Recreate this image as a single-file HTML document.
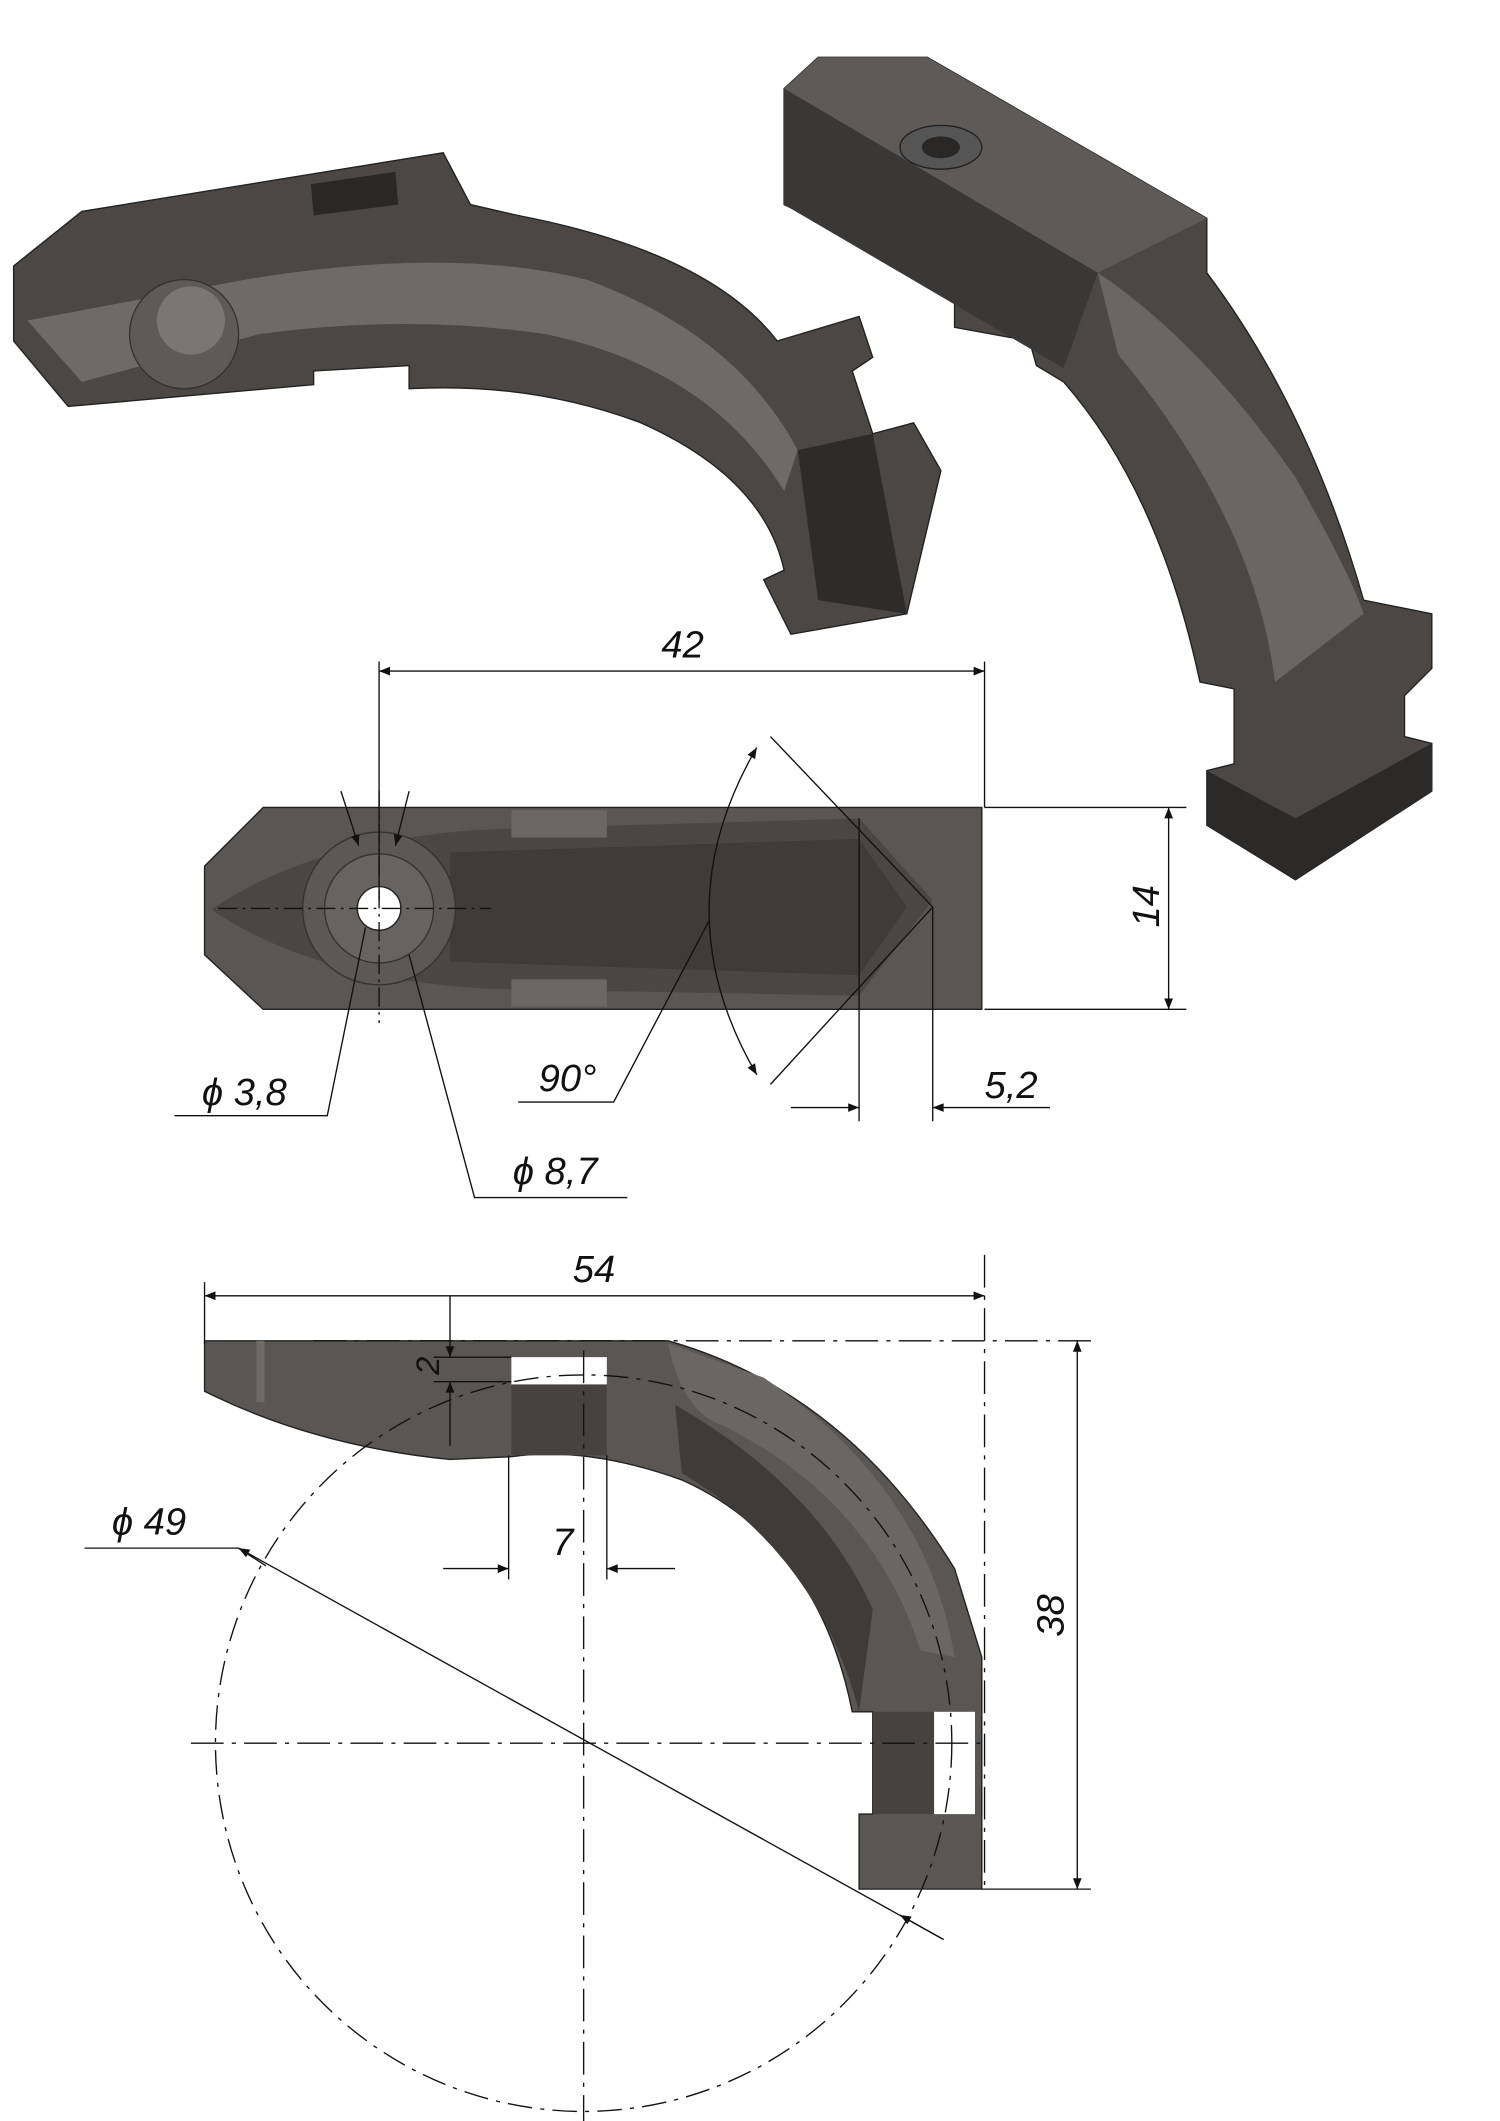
<!DOCTYPE html>
<html><head><meta charset="utf-8"><style>
html,body{margin:0;padding:0;background:#fff;}
svg{display:block;}
text{font-family:"Liberation Sans",sans-serif;font-style:italic;fill:#111;}
</style></head><body>
<svg width="1500" height="2121" viewBox="0 0 1100 1555" preserveAspectRatio="none" xmlns="http://www.w3.org/2000/svg">
<defs>
<marker id="a" viewBox="0 0 10 10" refX="10" refY="5" markerWidth="12" markerHeight="8" orient="auto-start-reverse" markerUnits="userSpaceOnUse"><path d="M0,1 L10,5 L0,9 z" fill="#111"/></marker>
<linearGradient id="g1" x1="0" y1="0" x2="1" y2="1"><stop offset="0" stop-color="#6a6664"/><stop offset="0.5" stop-color="#5a5654"/><stop offset="1" stop-color="#3a3836"/></linearGradient>
</defs>
<rect width="1100" height="1555" fill="#fff"/>

<!-- top-left 3D part -->
<path d="M10,195 L60,155 L325,112 L345,150 L380,158 Q520,185 570,250 L630,232 L640,262 L625,272 L640,318 L670,310 L690,345 L665,450 L580,465 L560,425 L575,418 Q560,350 470,310 Q390,280 300,285 L300,268 L230,272 L230,282 L50,298 L10,250 Z" fill="#4a4745" stroke="#222" stroke-width="1"/>
<path d="M20,235 L180,205 Q330,180 430,205 Q540,245 585,330 L575,360 Q520,270 400,245 Q300,230 190,245 L60,280 Z" fill="#6e6a67"/>
<circle cx="135" cy="245" r="40" fill="#5e5a58" stroke="#333"/>
<circle cx="140" cy="235" r="25" fill="#7a7674"/>
<path d="M228,135 L290,126 L292,150 L230,158 Z" fill="#2a2826"/>
<path d="M585,330 L640,318 L665,450 L600,440 Z" fill="#2e2c2a"/>

<!-- top-right 3D part -->
<path d="M575,65 L600,42 L680,42 L885,160 L885,200 Q960,300 1000,440 L1050,450 L1050,490 L1030,510 L1030,540 L1050,545 L1050,580 L950,645 L885,605 L885,565 L905,560 L905,505 L880,500 Q850,360 780,280 L760,268 L755,250 L700,240 L700,210 L575,150 Z" fill="#4a4745" stroke="#222" stroke-width="1"/>
<path d="M575,65 L600,42 L680,42 L885,160 L805,200 Z" fill="#5e5a57"/>
<path d="M805,200 Q880,250 950,350 Q990,420 1000,450 L935,500 Q920,380 820,260 Z" fill="#6a6663"/>
<path d="M575,65 L805,200 L780,270 L575,150 Z" fill="#3a3836"/>
<ellipse cx="690" cy="108" rx="30" ry="16" fill="#555" stroke="#222"/>
<ellipse cx="690" cy="108" rx="14" ry="8" fill="#2a2826"/>
<path d="M885,565 L950,600 L1050,545 L1050,580 L950,645 L885,605 Z" fill="#2c2a28"/>

<!-- middle view -->
<path d="M150,635 L193,592 L720,592 L720,740 L193,740 L150,700 Z" fill="#5a5654" stroke="#222" stroke-width="1"/>
<path d="M155,667 Q230,615 360,608 L630,600 L684,660 L630,730 L360,725 Q230,718 155,667 Z" fill="#4a4644"/>
<path d="M330,625 L630,615 L665,665 L630,715 L330,705 Z" fill="#3e3b39"/>
<rect x="375" y="594" width="70" height="20" fill="#6b6764"/>
<rect x="375" y="718" width="70" height="20" fill="#6b6764"/>
<circle cx="278" cy="666" r="56" fill="#5c5856" stroke="#333"/>
<circle cx="278" cy="666" r="40" fill="#676361" stroke="#333"/>
<circle cx="278" cy="666" r="16" fill="#fff" stroke="#222"/>
<line x1="160" y1="666" x2="360" y2="666" stroke="#111" stroke-dasharray="14,4,2,4"/>
<line x1="278" y1="580" x2="278" y2="750" stroke="#111" stroke-dasharray="14,4,2,4"/>
<!-- 42 -->
<line x1="278" y1="485" x2="278" y2="660" stroke="#111"/>
<line x1="722" y1="485" x2="722" y2="592" stroke="#111"/>
<line x1="278" y1="492" x2="722" y2="492" stroke="#111" marker-start="url(#a)" marker-end="url(#a)"/>
<text x="485" y="482" font-size="28">42</text>
<!-- 14 -->
<line x1="722" y1="592" x2="870" y2="592" stroke="#111"/>
<line x1="722" y1="740" x2="870" y2="740" stroke="#111"/>
<line x1="857" y1="592" x2="857" y2="740" stroke="#111" marker-start="url(#a)" marker-end="url(#a)"/>
<text x="0" y="0" font-size="28" transform="translate(850,680) rotate(-90)">14</text>
<!-- 5,2 -->
<line x1="630" y1="600" x2="630" y2="822" stroke="#111"/>
<line x1="684" y1="665" x2="684" y2="822" stroke="#111"/>
<line x1="580" y1="812" x2="630" y2="812" stroke="#111" marker-end="url(#a)"/>
<line x1="770" y1="812" x2="684" y2="812" stroke="#111" marker-end="url(#a)"/>
<text x="722" y="805" font-size="28">5,2</text>
<!-- 90 deg -->
<line x1="565" y1="540" x2="684" y2="665" stroke="#111"/>
<line x1="565" y1="795" x2="684" y2="665" stroke="#111"/>
<path d="M555,548 Q485,668 555,788" fill="none" stroke="#111" marker-start="url(#a)" marker-end="url(#a)"/>
<polyline points="380,808 450,808 520,675" fill="none" stroke="#111"/>
<text x="395" y="800" font-size="28">90°</text>
<!-- diam leaders -->
<polyline points="128,818 240,818 268,680" fill="none" stroke="#111"/>
<line x1="250" y1="580" x2="263" y2="620" stroke="#111" marker-end="url(#a)"/>
<line x1="300" y1="580" x2="290" y2="620" stroke="#111" marker-end="url(#a)"/>
<polyline points="460,878 348,878 300,700" fill="none" stroke="#111"/>
<text x="148" y="810" font-size="28">ϕ 3,8</text>
<text x="376" y="868" font-size="28">ϕ 8,7</text>

<!-- bottom view -->
<path d="M150,983 L490,983 Q620,1020 700,1150 L720,1215 L720,1385 L630,1385 L630,1330 L640,1330 L640,1255 L625,1255 Q600,1130 500,1085 Q430,1060 375,1068 L330,1070 Q230,1060 150,1020 Z" fill="#5a5654" stroke="#222"/>
<path d="M495,1030 Q600,1090 640,1180 L630,1255 Q600,1140 500,1080 Z" fill="#3e3b39"/>
<path d="M490,985 Q500,1035 530,1045 Q640,1100 675,1210 L700,1215 Q680,1090 560,1010 Z" fill="#6a6663"/>
<rect x="375" y="995" width="70" height="20" fill="#fff"/>
<rect x="375" y="1015" width="70" height="52" fill="#45423f"/>
<rect x="640" y="1255" width="45" height="75" fill="#45423f"/>
<rect x="685" y="1255" width="30" height="75" fill="#fff"/>
<rect x="188" y="983" width="6" height="45" fill="#6e6a67"/>
<circle cx="428" cy="1278" r="270" fill="none" stroke="#111" stroke-dasharray="18,6,3,6"/>
<line x1="140" y1="1278" x2="720" y2="1278" stroke="#111" stroke-dasharray="24,6,3,6"/>
<line x1="428" y1="990" x2="428" y2="1555" stroke="#111" stroke-dasharray="24,6,3,6"/>
<line x1="150" y1="940" x2="150" y2="985" stroke="#111"/>
<line x1="722" y1="920" x2="722" y2="1385" stroke="#111" stroke-dasharray="24,6,3,6"/>
<line x1="150" y1="950" x2="722" y2="950" stroke="#111" marker-start="url(#a)" marker-end="url(#a)"/>
<text x="420" y="940" font-size="28">54</text>
<line x1="230" y1="983" x2="800" y2="983" stroke="#111" stroke-dasharray="24,6,3,6"/>
<line x1="720" y1="1385" x2="800" y2="1385" stroke="#111"/>
<line x1="790" y1="983" x2="790" y2="1385" stroke="#111" marker-start="url(#a)" marker-end="url(#a)"/>
<text x="0" y="0" font-size="28" transform="translate(780,1200) rotate(-90)">38</text>
<line x1="318" y1="995" x2="375" y2="995" stroke="#111"/>
<line x1="318" y1="1013" x2="375" y2="1013" stroke="#111"/>
<line x1="330" y1="950" x2="330" y2="995" stroke="#111" marker-end="url(#a)"/>
<line x1="330" y1="1060" x2="330" y2="1013" stroke="#111" marker-end="url(#a)"/>
<text x="0" y="0" font-size="24" transform="translate(322,1008) rotate(-90)">2</text>
<line x1="373" y1="1067" x2="373" y2="1158" stroke="#111"/>
<line x1="445" y1="1067" x2="445" y2="1158" stroke="#111"/>
<line x1="325" y1="1150" x2="373" y2="1150" stroke="#111" marker-end="url(#a)"/>
<line x1="495" y1="1150" x2="445" y2="1150" stroke="#111" marker-end="url(#a)"/>
<text x="405" y="1140" font-size="28">7</text>
<polyline points="62,1135 175,1135 195,1148" fill="none" stroke="#111"/>
<line x1="175" y1="1135" x2="692" y2="1422" stroke="#111" marker-start="url(#a)"/>
<line x1="660" y1="1404" x2="692" y2="1422" stroke="#111" marker-start="url(#a)"/>
<text x="82" y="1125" font-size="28">ϕ 49</text>
</svg>
</body></html>
